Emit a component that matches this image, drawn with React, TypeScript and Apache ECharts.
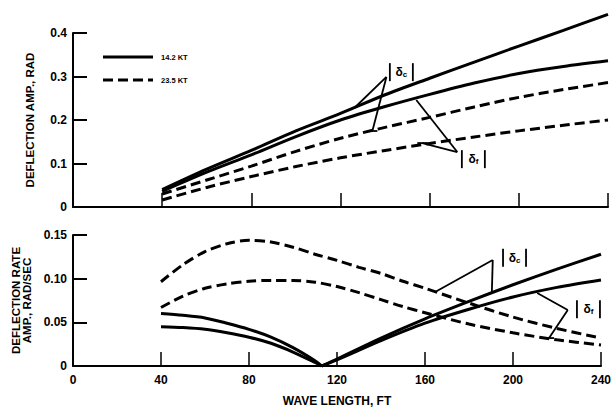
import React, { useEffect, useRef } from "react";
import * as echarts from "echarts";

// ---- data (wave length in ft) ----
const waveTop = [40, 60, 80, 100, 120, 140, 160, 180, 200, 220, 240];
const ampDc142 = [0.040, 0.087, 0.130, 0.175, 0.215, 0.258, 0.296, 0.333, 0.370, 0.406, 0.443];
const ampDf142 = [0.036, 0.080, 0.120, 0.162, 0.200, 0.231, 0.259, 0.285, 0.307, 0.323, 0.336];
const ampDc235 = [0.030, 0.062, 0.094, 0.128, 0.158, 0.183, 0.206, 0.230, 0.252, 0.270, 0.286];
const ampDf235 = [0.016, 0.045, 0.070, 0.093, 0.113, 0.130, 0.146, 0.161, 0.175, 0.188, 0.200];

const waveFall = [40, 50, 60, 70, 80, 90, 100, 110, 113];
const rateDc142Fall = [0.060, 0.058, 0.055, 0.049, 0.042, 0.033, 0.021, 0.006, 0];
const rateDf142Fall = [0.045, 0.044, 0.042, 0.038, 0.033, 0.026, 0.016, 0.004, 0];
const waveRise = [113, 120, 140, 160, 180, 200, 220, 240];
const rateDc142Rise = [0, 0.008, 0.032, 0.054, 0.074, 0.093, 0.111, 0.128];
const rateDf142Rise = [0, 0.007, 0.029, 0.049, 0.065, 0.079, 0.090, 0.0985];

const waveRate = [40, 50, 60, 70, 80, 90, 100, 110, 120, 130, 140, 150, 160, 180, 200, 220, 240];
const rateDc235 = [0.0965, 0.116, 0.131, 0.140, 0.144, 0.142, 0.136, 0.128, 0.121, 0.113, 0.106, 0.097, 0.089, 0.072, 0.056, 0.043, 0.032];
const rateDf235 = [0.067, 0.080, 0.089, 0.094, 0.097, 0.098, 0.098, 0.096, 0.091, 0.084, 0.076, 0.068, 0.061, 0.048, 0.038, 0.030, 0.024];

const xTicks = [0, 40, 80, 120, 160, 200, 240];
const legendNames = ["14.2 KT", "23.5 KT"];

// callout annotations (data coordinates)
const callouts = [
  { grid: 0, sub: "c", label: [147.3, 0.31], apex: [140.6, 0.299], legs: [[126.2, 0.2276], [134.3, 0.1747]], foot: [134.3, 0.1747] },
  { grid: 0, sub: "f", label: [179.6, 0.11], apex: [172.4, 0.1264], legs: [[154, 0.246], [156.7, 0.147]], foot: [156.7, 0.147] },
  { grid: 1, sub: "c", label: [200.7, 0.124], apex: [190.8, 0.1214], legs: [[164.8, 0.0851], [190.4, 0.0851]], foot: null },
  { grid: 1, sub: "f", label: [234.3, 0.065], apex: [224.9, 0.0641], legs: [[211, 0.0836], [216.4, 0.032]], foot: [216.4, 0.032] },
];

const FONT = "'Liberation Sans', Arial, Helvetica, sans-serif";
const zip = (xs: number[], ys: number[]) => xs.map((x, i) => [x, ys[i]]);

export default function App() {
  const ref = useRef<HTMLDivElement>(null);
  useEffect(() => {
    if (!ref.current) return;
    const chart = echarts.init(ref.current, undefined, { renderer: "svg" });
    const axisLine = { show: true, lineStyle: { color: "#000", width: 2 } };
    const xAxisBase = (g: number, labels: boolean) => ({
      gridIndex: g,
      type: "value",
      min: xTicks[0],
      max: xTicks[xTicks.length - 1],
      interval: 40,
      axisLine,
      axisTick: { show: true, inside: true, length: 14, lineStyle: { color: "#000", width: 1.5 } },
      splitLine: { show: false },
      axisLabel: labels
        ? { show: true, color: "#000", fontSize: 12, fontWeight: "bold", fontFamily: FONT, margin: 8 }
        : { show: false },
      ...(labels
        ? {
            name: "WAVE LENGTH, FT",
            nameLocation: "middle",
            nameGap: 29,
            nameTextStyle: { color: "#000", fontSize: 12, fontWeight: "bold", fontFamily: FONT },
          }
        : {}),
    });
    const yAxisBase = (g: number, max: number, interval: number, digits: number, name: string, gap: number) => ({
      gridIndex: g,
      type: "value",
      min: 0,
      max,
      interval,
      axisLine,
      axisTick: { show: true, inside: true, length: 14, lineStyle: { color: "#000", width: 2 } },
      splitLine: { show: false },
      axisLabel: {
        color: "#000",
        fontSize: 12,
        fontWeight: "bold",
        fontFamily: FONT,
        margin: 6,
        formatter: (v: number) => (v === 0 ? "0" : v.toFixed(digits)),
      },
      name,
      nameLocation: "middle",
      nameGap: gap,
      nameTextStyle: { color: "#000", fontSize: 11.5, fontWeight: "bold", fontFamily: FONT, lineHeight: 11 },
    });
    const solid = { color: "#000", width: 3, type: "solid" };
    const dashed = { color: "#000", width: 3, type: [10, 5] };
    const mk = (name: string, g: number, data: number[][], ls: any) => ({
      name,
      type: "line",
      xAxisIndex: g,
      yAxisIndex: g,
      data,
      smooth: 0.3,
      symbol: "none",
      clip: false,
      lineStyle: ls,
      itemStyle: { color: "#000" },
    });
    const option: any = {
      animation: false,
      backgroundColor: "#fff",
      grid: [
        { left: 73, right: 6, top: 33, height: 174 },
        { left: 73, right: 6, top: 235, height: 131 },
      ],
      xAxis: [xAxisBase(0, false), xAxisBase(1, true)],
      yAxis: [
        yAxisBase(0, 0.4, 0.1, 1, "DEFLECTION AMP., RAD", 38),
        yAxisBase(1, 0.15, 0.05, 2, "DEFLECTION RATE\nAMP., RAD/SEC", 36),
      ],
      series: [
        mk(legendNames[0], 0, zip(waveTop, ampDc142), solid),
        mk(legendNames[0], 0, zip(waveTop, ampDf142), solid),
        mk(legendNames[1], 0, zip(waveTop, ampDc235), dashed),
        mk(legendNames[1], 0, zip(waveTop, ampDf235), dashed),
        mk(legendNames[0], 1, zip(waveFall, rateDc142Fall), solid),
        mk(legendNames[0], 1, zip(waveFall, rateDf142Fall), solid),
        mk(legendNames[0], 1, zip(waveRise, rateDc142Rise), solid),
        mk(legendNames[0], 1, zip(waveRise, rateDf142Rise), solid),
        mk(legendNames[1], 1, zip(waveRate, rateDc235), dashed),
        mk(legendNames[1], 1, zip(waveRate, rateDf235), dashed),
      ],
    };
    chart.setOption(option);

    const px = (g: number, p: number[]) => chart.convertToPixel({ xAxisIndex: g, yAxisIndex: g } as any, p) as number[];
    const lineStyle = { stroke: "#000", lineWidth: 1.8 };
    const graphics: any[] = [];

    // legend
    legendNames.forEach((n, i) => {
      const y = 57 + i * 23;
      graphics.push({
        type: "line",
        shape: { x1: 103, y1: y, x2: 153, y2: y },
        style: { stroke: "#000", lineWidth: 3, lineDash: i === 0 ? null : [10, 5] },
      });
      graphics.push({
        type: "text",
        x: 161,
        y,
        style: { text: n, fill: "#000", fontSize: 7.5, fontWeight: "bold", fontFamily: FONT, verticalAlign: "middle" },
      });
    });

    callouts.forEach((c) => {
      const a = px(c.grid, c.apex);
      c.legs.forEach((l) => {
        const e = px(c.grid, l);
        graphics.push({ type: "line", shape: { x1: a[0], y1: a[1], x2: e[0], y2: e[1] }, style: lineStyle, z: 10 });
      });
      if (c.foot) {
        const f = px(c.grid, c.foot);
        graphics.push({ type: "line", shape: { x1: f[0] - 5, y1: f[1], x2: f[0] + 5, y2: f[1] }, style: lineStyle, z: 10 });
      }
      const t = px(c.grid, c.label);
      graphics.push({ type: "line", shape: { x1: t[0] - 11.5, y1: t[1] - 9, x2: t[0] - 11.5, y2: t[1] + 9 }, style: lineStyle, z: 10 });
      graphics.push({ type: "line", shape: { x1: t[0] + 11.5, y1: t[1] - 9, x2: t[0] + 11.5, y2: t[1] + 9 }, style: lineStyle, z: 10 });
      graphics.push({
        type: "text",
        x: t[0],
        y: t[1],
        z: 10,
        style: {
          text: "{d|δ}{s|" + c.sub + "}",
          align: "center",
          verticalAlign: "middle",
          fill: "#000",
          rich: {
            d: { fontSize: 12, fontWeight: "bold", fontFamily: FONT, fill: "#000" },
            s: { fontSize: 8, fontWeight: "bold", fontFamily: FONT, fill: "#000", padding: [5, 0, 0, 0] },
          },
        },
      });
    });
    chart.setOption({ graphic: graphics });
    return () => chart.dispose();
  }, []);
  return <div ref={ref} style={{ width: 614, height: 414, position: "absolute", left: 0, top: 0 }} />;
}
